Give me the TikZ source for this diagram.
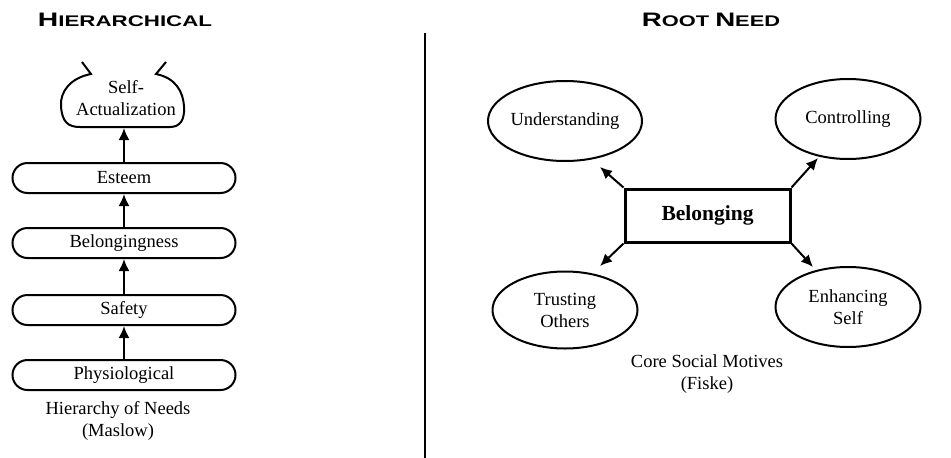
\documentclass[tikz,border=0pt]{standalone}
\usepackage{fontspec}
\setmainfont{Liberation Serif}
\newfontfamily\titlefont{Liberation Sans}
\usepackage{graphicx}
\usetikzlibrary{arrows.meta,shapes.geometric}
\begin{document}
\begin{tikzpicture}[x=1pt,y=-1pt,line width=2pt,
  txt/.style={font=\fontsize{18.5}{22}\selectfont, align=center, inner sep=0pt},
  stadium/.style={draw, rounded corners=15pt, minimum width=223pt, minimum height=30pt, txt},
  oval/.style={draw, ellipse, minimum width=145pt, minimum height=80pt, txt},
  arr/.style={-{Latex[length=12pt,width=11pt]}, line width=2pt},
  ttl/.style={inner sep=0pt, font=\titlefont\bfseries}
]
\useasboundingbox (0,0) rectangle (951,458);
% titles
\node[ttl] (t1) at (125,20) {\scalebox{1.45}[1]{\fontsize{19.5}{20}\selectfont H\fontsize{15.4}{20}\selectfont IERARCHICAL}};
\node[ttl] (t2) at (711,20) {\scalebox{1.42}[1]{\fontsize{19.5}{20}\selectfont R\fontsize{15.4}{20}\selectfont OOT \fontsize{19.5}{20}\selectfont N\fontsize{15.4}{20}\selectfont EED}};
% divider
\draw[line width=2.4pt] (425,33) -- (425,458);
% left panel
\draw (82,62) -- (91,74) .. controls (70,78) and (60,92) .. (61,106) .. controls (62,122) and (68,127) .. (80,127) -- (170,127) .. controls (180,127) and (185,120) .. (184,106) .. controls (183,92) and (176,78) .. (156,74) -- (166,62);
\node[txt, minimum height=58pt] (sa) at (126,98) {Self-\\Actualization};
\node[stadium] (est) at (124,178) {Esteem};
\node[stadium] (blg) at (124,243) {Belongingness};
\node[stadium] (saf) at (124,310) {Safety};
\node[stadium] (phy) at (124,375) {Physiological};
\draw[arr] (phy.north) -- (saf.south);
\draw[arr] (saf.north) -- (blg.south);
\draw[arr] (blg.north) -- (est.south);
\draw[arr] (est.north) -- (est.north |- sa.south);
\node[txt] (hn) at (118,421) {Hierarchy of Needs\\(Maslow)};
% right panel
\node[draw, line width=3pt, minimum width=165pt, minimum height=53pt, inner sep=0pt, font=\bfseries\fontsize{21.5}{24}\selectfont] (root) at (707.5,215.5) {Belonging};
\node[oval] (und) at (565,121) {Understanding};
\node[oval] (con) at (848,119) {Controlling};
\node[oval, minimum height=77pt] (tru) at (565,310) {Trusting\\Others};
\node[oval] (enh) at (848,307) {Enhancing\\Self};
\coordinate (aul) at (600,167);
\coordinate (aur) at (818,158);
\coordinate (adl) at (600,266);
\coordinate (adr) at (813,267);
\draw[arr] (root.north west) -- (aul);
\draw[arr] (root.north east) -- (aur);
\draw[arr] (root.south west) -- (adl);
\draw[arr] (root.south east) -- (adr);
\node[txt] (csm) at (707,374) {Core Social Motives\\(Fiske)};
\end{tikzpicture}
\end{document}
